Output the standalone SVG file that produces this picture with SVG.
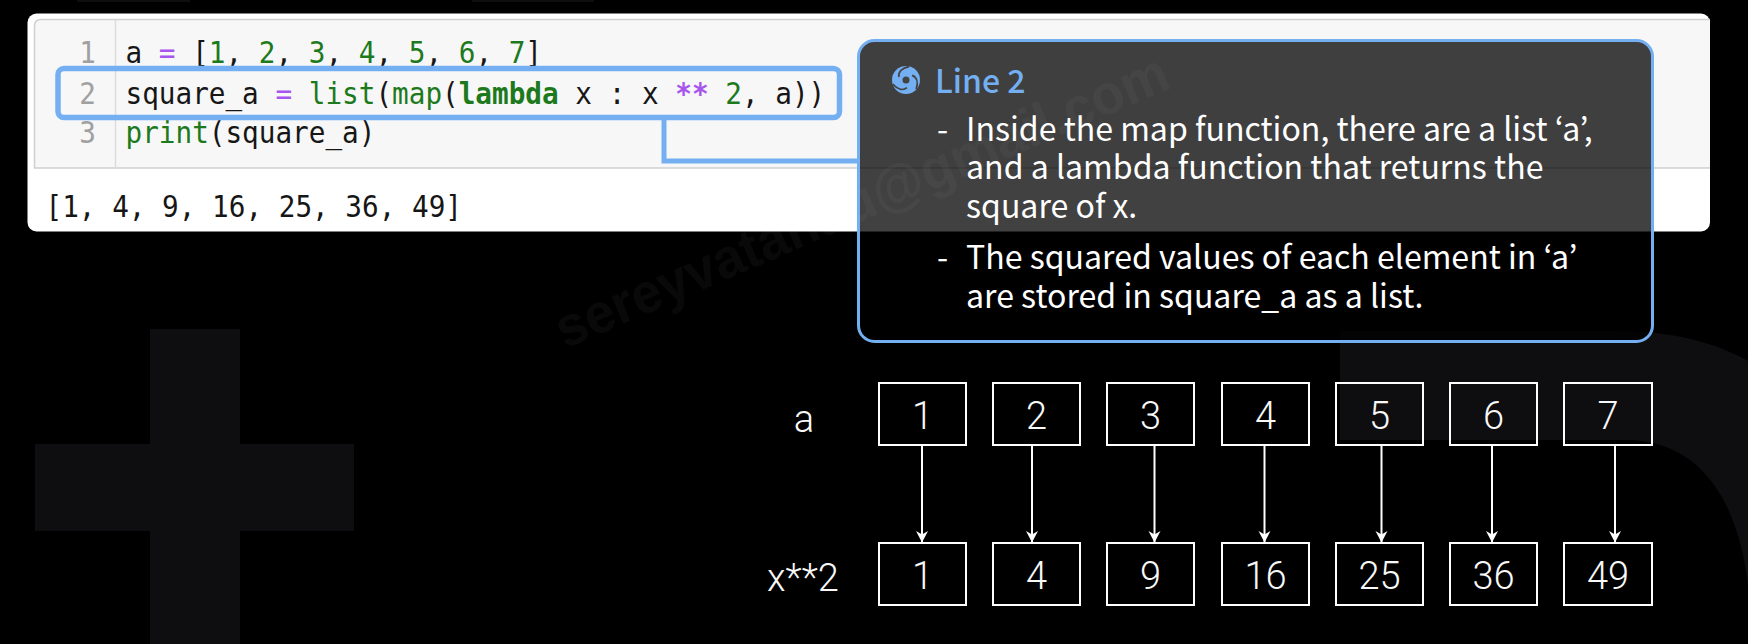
<svg xmlns="http://www.w3.org/2000/svg" width="1748" height="644" viewBox="0 0 1748 644">
<style>
.code{font-family:"DejaVu Sans Mono","Liberation Mono",monospace;font-size:31px;fill:#161616}
.gut{font-family:"DejaVu Sans Mono","Liberation Mono",monospace;font-size:31px;fill:#a0a0a0;text-anchor:end}
.g{fill:#1c7a1c}.p{fill:#a855ee}.b{font-weight:bold}
.body{font-family:"Noto Sans CJK KR","Noto Sans",sans-serif;font-size:32.1px;fill:#fff}
.title{font-family:"Noto Sans CJK KR","Noto Sans",sans-serif;font-size:32px;font-weight:500;fill:#74aff2}
.box rect{fill:none;stroke:#fff;stroke-width:2}
.box text,.lab{font-family:Roboto,"Liberation Sans",sans-serif;font-weight:300;font-size:38px;fill:#f8f8f8;text-anchor:middle}
.conn{stroke:#fff;stroke-width:2;fill:none;marker-end:url(#ah)}
.deco{fill:#0e0d0f}
.wm{font-family:"Liberation Sans",sans-serif;font-weight:bold;font-size:56px;fill:#fff;fill-opacity:.035}
.cut{fill:none;stroke:#434343;stroke-width:1.8}
</style>
<defs>
<marker id="ah" markerUnits="userSpaceOnUse" markerWidth="13" markerHeight="14" refX="12" refY="7" orient="auto" viewBox="0 0 13 14">
<path d="M1 1 L12.5 7 L1 13 L4.5 7 Z" fill="#fff"/>
</marker>
<path id="blade" d="M899 77C898 72 902 68 909 66.5"/>
</defs>
<rect width="1748" height="644" fill="#000"/>
<g id="backdrop">
<path class="deco" d="M150 329H240V444H354V531H240V644H150V531H35V444H150Z"/>
<path class="deco" d="M1340 331H1620C1670 331 1715 342 1748 361V644H1748V585C1738 500 1700 440 1625 440H1340Z"/>
<rect class="deco" x="77" y="0" width="113" height="2"/>
<rect class="deco" x="472" y="0" width="122" height="2"/>
</g>
<g id="code-card">
<rect x="27.5" y="13.5" width="1682.5" height="218" rx="9" fill="#fff"/>
<path d="M1710 19.5H41Q34.5 19.5 34.5 26V168H1710V19.5Z" fill="#f7f7f8"/>
<path d="M1710 19.5H41Q34.5 19.5 34.5 26V168H1710" fill="none" stroke="#cfcfcf" stroke-width="1.5"/>
<line x1="115.5" y1="20" x2="115.5" y2="168" stroke="#dcdcdc" stroke-width="1.5"/>
<text class="gut" transform="translate(96 63) scale(.893 1)">1</text>
<text class="gut" transform="translate(96 103.5) scale(.893 1)">2</text>
<text class="gut" transform="translate(96 143) scale(.893 1)">3</text>
<text class="code" transform="translate(125.5 63) scale(.893 1)">a <tspan class="p">=</tspan> [<tspan class="g">1</tspan>, <tspan class="g">2</tspan>, <tspan class="g">3</tspan>, <tspan class="g">4</tspan>, <tspan class="g">5</tspan>, <tspan class="g">6</tspan>, <tspan class="g">7</tspan>]</text>
<text class="code" transform="translate(125.5 103.5) scale(.893 1)">square_a <tspan class="p">=</tspan> <tspan class="g">list</tspan>(<tspan class="g">map</tspan>(<tspan class="g b">lambda</tspan> x : x <tspan class="p b">**</tspan> <tspan class="g">2</tspan>, a))</text>
<text class="code" transform="translate(125.5 143) scale(.893 1)"><tspan class="g">print</tspan>(square_a)</text>
<text class="code" transform="translate(45.5 217) scale(.893 1)">[1, 4, 9, 16, 25, 36, 49]</text>
</g>
<g id="connectors">
<rect x="58" y="68.5" width="781.5" height="49" rx="6" fill="none" stroke="#74aff2" stroke-width="5.5"/>
<path d="M664 120V161H860" fill="none" stroke="#74aff2" stroke-width="5"/>
<line class="conn" x1="922" y1="446" x2="922" y2="542"/>
<line class="conn" x1="1032" y1="446" x2="1032" y2="542"/>
<line class="conn" x1="1154.5" y1="446" x2="1154.5" y2="542"/>
<line class="conn" x1="1264.5" y1="446" x2="1264.5" y2="542"/>
<line class="conn" x1="1381.5" y1="446" x2="1381.5" y2="542"/>
<line class="conn" x1="1492" y1="446" x2="1492" y2="542"/>
<line class="conn" x1="1615" y1="446" x2="1615" y2="542"/>
</g>
<g id="callout">
<rect x="858.5" y="40.5" width="794" height="301" rx="16" fill="#000" fill-opacity=".745" stroke="#74aff2" stroke-width="3"/>
<text class="wm" x="0" y="0" transform="translate(565 349) rotate(-23.3)" textLength="662" lengthAdjust="spacingAndGlyphs">sereyvatanau@gmail.com</text>
<g id="callout-icon">
<circle cx="906" cy="80" r="14" fill="#74aff2"/>
<circle cx="906" cy="80" r="3.5" fill="#434343"/>
<use href="#blade" class="cut"/>
<use href="#blade" class="cut" transform="rotate(120 906 80)"/>
<use href="#blade" class="cut" transform="rotate(240 906 80)"/>
</g>
<text class="title" x="935" y="92.5">Line 2</text>
<text class="body" x="937" y="140.5">-</text>
<text class="body" x="966" y="140.5">Inside the map function, there are a list ‘a’,</text>
<text class="body" x="966" y="178.5">and a lambda function that returns the</text>
<text class="body" x="966" y="217.5">square of x.</text>
<text class="body" x="937" y="268.5">-</text>
<text class="body" x="966" y="268.5">The squared values of each element in ‘a’</text>
<text class="body" x="966" y="307.5">are stored in square_a as a list.</text>
</g>
<g id="box-a-1" class="box"><rect x="879" y="383" width="87" height="62"/><text x="922.5" y="429">1</text></g>
<g id="box-a-2" class="box"><rect x="993" y="383" width="87" height="62"/><text x="1036.5" y="429">2</text></g>
<g id="box-a-3" class="box"><rect x="1107" y="383" width="87" height="62"/><text x="1150.5" y="429">3</text></g>
<g id="box-a-4" class="box"><rect x="1222" y="383" width="87" height="62"/><text x="1265.5" y="429">4</text></g>
<g id="box-a-5" class="box"><rect x="1336" y="383" width="87" height="62"/><text x="1379.5" y="429">5</text></g>
<g id="box-a-6" class="box"><rect x="1450" y="383" width="87" height="62"/><text x="1493.5" y="429">6</text></g>
<g id="box-a-7" class="box"><rect x="1564" y="383" width="88" height="62"/><text x="1608" y="429">7</text></g>
<g id="box-x-1" class="box"><rect x="879" y="543" width="87" height="62"/><text x="922.5" y="589">1</text></g>
<g id="box-x-4" class="box"><rect x="993" y="543" width="87" height="62"/><text x="1036.5" y="589">4</text></g>
<g id="box-x-9" class="box"><rect x="1107" y="543" width="87" height="62"/><text x="1150.5" y="589">9</text></g>
<g id="box-x-16" class="box"><rect x="1222" y="543" width="87" height="62"/><text x="1265.5" y="589">16</text></g>
<g id="box-x-25" class="box"><rect x="1336" y="543" width="87" height="62"/><text x="1379.5" y="589">25</text></g>
<g id="box-x-36" class="box"><rect x="1450" y="543" width="87" height="62"/><text x="1493.5" y="589">36</text></g>
<g id="box-x-49" class="box"><rect x="1564" y="543" width="88" height="62"/><text x="1608" y="589">49</text></g>
<text id="label-a" class="lab" x="804" y="432">a</text>
<text id="label-x" class="lab" x="803" y="591">x**2</text>
</svg>
